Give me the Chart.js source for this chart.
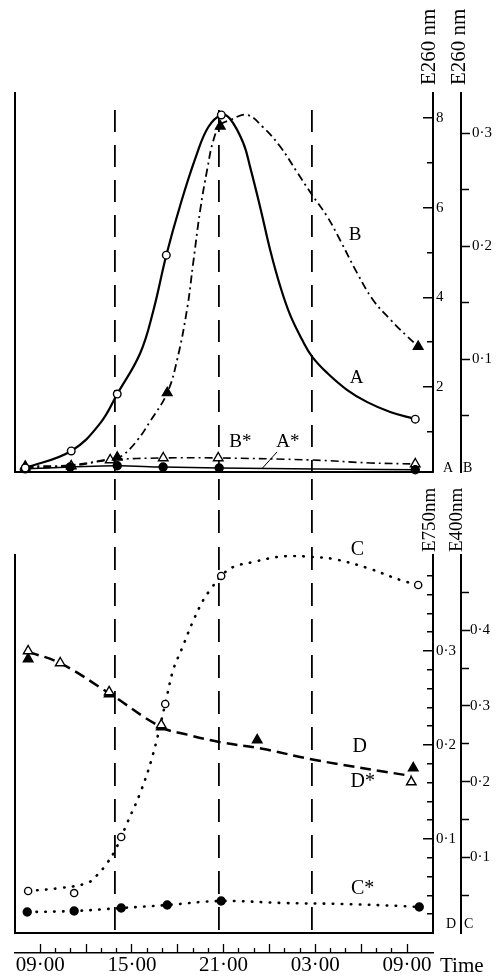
<!DOCTYPE html>
<html>
<head>
<meta charset="utf-8">
<script src="https://cdn.jsdelivr.net/npm/chart.js@4.4.1/dist/chart.umd.min.js"></script>
<style>
  body { margin: 0; background: #fff; }
  #wrap { position: relative; width: 499px; height: 980px; }
  canvas { position: absolute; left: 0; }
  #top { top: 0; }
  #bottom { top: 470px; }
</style>
</head>
<body>
<div id="wrap">
  <canvas id="top" width="499" height="505"></canvas>
  <canvas id="bottom" width="499" height="510"></canvas>
</div>
<script>
Chart.defaults.font.family = '"Liberation Serif", "Times New Roman", serif';
Chart.defaults.color = '#000';

/* time axis: clock hours counted from midnight of day 1 (33 = 09:00 next day) */
const timeTicks = [9, 15, 21, 27, 33];
const timeLabels = ['09·00', '15·00', '21·00', '03·00', '09·00'];
const darkLines = [13.9, 20.7, 26.8];
const xMin = 7.35, xMax = 34.7;

/* TOP PANEL - E260 nm */
// A : open circles, solid
const aHours = [8.02, 11.03, 14.04, 17.25, 20.85, 33.54];
const aVals = [0.19, 0.57, 1.84, 4.94, 8.07, 1.28];
const aLineHours = [8.02, 11.03, 12.93, 14.04, 15.54, 16.4, 17.25, 18.2, 19.2, 20.0, 20.85, 21.43, 22.28, 22.74, 23.4, 24.05, 24.7, 25.36, 26.14, 26.8, 27.78, 29.09, 30.4, 31.9, 33.54];
const aLineVals = [0.19, 0.57, 1.19, 1.84, 2.75, 3.7, 4.94, 6.1, 7.15, 7.8, 8.07, 7.98, 7.45, 6.9, 6.0, 5.05, 4.25, 3.6, 3.05, 2.67, 2.31, 1.93, 1.66, 1.44, 1.28];
// B : filled triangles, dash-dot
const bHours = [8.02, 14.04, 17.31, 20.78, 33.73];
const bVals = [0.005, 0.013, 0.070, 0.306, 0.111];
const bLineHours = [8.02, 10.96, 14.04, 14.43, 15.35, 16.2, 17.31, 17.97, 18.62, 19.01, 19.47, 19.93, 20.32, 20.78, 21.43, 22.54, 23.59, 24.7, 25.82, 26.8, 27.78, 28.63, 29.74, 30.79, 31.9, 33.01, 33.73];
const bLineVals = [0.005, 0.006, 0.013, 0.015, 0.028, 0.045, 0.070, 0.100, 0.145, 0.185, 0.232, 0.268, 0.293, 0.307, 0.3115, 0.316, 0.305, 0.288, 0.265, 0.245, 0.226, 0.205, 0.176, 0.152, 0.135, 0.120, 0.111];
// A* : filled circles, solid
const aStarHours = [8.02, 10.96, 14.04, 17.04, 20.71, 33.54];
const aStarVals = [0.17, 0.21, 0.24, 0.21, 0.19, 0.15];
// B* : open triangles, dash-dot
const bStarHours = [8.02, 11.03, 13.58, 17.05, 20.65, 33.54];
const bStarVals = [0.0035, 0.0053, 0.0106, 0.0124, 0.0124, 0.0071];
const bStarLineHours = [8.02, 11.03, 13.58, 17.05, 20.65, 26.8, 30.6, 33.54];
const bStarLineVals = [0.0035, 0.0053, 0.0106, 0.0124, 0.0124, 0.0106, 0.008, 0.0071];

/* BOTTOM PANEL - E750 nm (D) and E400 nm (C) */
// C : open circles, dotted
const cHours = [8.21, 11.22, 14.3, 17.18, 20.84, 33.73];
const cVals = [0.0555, 0.0528, 0.1268, 0.3025, 0.4716, 0.4597];
const cLineHours = [8.21, 10.31, 12.08, 12.73, 13.38, 13.91, 14.3, 14.69, 15.54, 16.33, 17.18, 17.7, 18.29, 18.95, 19.67, 20.12, 20.84, 21.63, 22.94, 24.51, 25.55, 26.8, 28.17, 30.4, 32.56, 33.73];
const cLineVals = [0.0555, 0.0594, 0.0661, 0.0766, 0.0925, 0.1096, 0.1268, 0.1453, 0.1849, 0.2325, 0.3025, 0.3474, 0.3765, 0.4095, 0.4399, 0.4531, 0.4716, 0.4835, 0.4901, 0.4967, 0.498, 0.4967, 0.4941, 0.4822, 0.4663, 0.4597];
// C* : filled circles, dotted
const cStarHours = [8.15, 11.22, 14.3, 17.31, 20.84, 33.8];
const cStarVals = [0.0277, 0.0291, 0.033, 0.037, 0.0423, 0.0343];
const cStarLineHours = [8.15, 11.22, 14.3, 17.31, 20.84, 24.9, 28.83, 32.56, 33.8];
const cStarLineVals = [0.0277, 0.0291, 0.033, 0.037, 0.0423, 0.0396, 0.0383, 0.0357, 0.0343];
// D : filled triangles, D* : open triangles, one dashed line
const dHours = [8.21, 13.51, 16.92, 23.2, 33.41];
const dVals = [0.2915, 0.2543, 0.2191, 0.2053, 0.1755];
const dStarHours = [8.21, 10.31, 13.51, 16.92, 33.28];
const dStarVals = [0.300, 0.2872, 0.2564, 0.2213, 0.1606];
const dLineHours = [8.21, 10.31, 13.51, 16.92, 18.62, 20.78, 23.53, 26.99, 33.28];
const dLineVals = [0.299, 0.287, 0.255, 0.219, 0.211, 0.203, 0.196, 0.184, 0.167];

const clear = 'rgba(0,0,0,0)';
function pts(h, v) { return h.map((x, i) => ({ x: x, y: v[i] })); }
function near(v, step) { return Math.abs(v / step - Math.round(v / step)) < 1e-6; }
function dec(v) { return '0·' + Math.round(v * 10); }

function curve(data, axis, dash, width) {
  return {
    type: 'line', data: data, yAxisID: axis, order: 2,
    borderColor: '#000', borderWidth: width, borderDash: dash,
    borderCapStyle: dash.length && dash[0] < 1 ? 'round' : 'butt',
    pointRadius: 0, fill: false, tension: 0.4
  };
}
function marks(data, axis, style, filled, r) {
  return {
    type: 'scatter', data: data, yAxisID: axis, order: 1, showLine: false,
    pointStyle: style, pointRadius: r, backgroundColor: filled ? '#000' : '#fff',
    borderColor: '#000', borderWidth: 1.4, clip: false
  };
}

// left frame line of a panel
function frameAxis() {
  return {
    type: 'linear', position: 'left', ticks: { display: false }, grid: { display: false },
    border: { color: '#000', width: 2 }, afterFit: s => { s.width = 0; }
  };
}

// first right axis: ticks point into the plot, numbers right of the line
function innerAxis(min, max, step, major, fmt) {
  const len = v => near(v, major) ? 10 : 6;
  return {
    type: 'linear', position: 'right', weight: 0, min: min, max: max,
    afterFit: s => { s.width = 28; },
    ticks: { stepSize: step, autoSkip: false, padding: 3, font: { size: 15 },
      callback: v => (v > min && near(v, major)) ? fmt(v) : '' },
    grid: { drawTicks: false, lineWidth: 1.5,
      color: c => (c.tick && c.tick.value > min && near(c.tick.value, step)) ? '#000' : clear },
    border: { color: '#000', width: 2,
      dash: c => {
        if (c.type !== 'tick') return [];
        const w = c.chart.chartArea.right - c.chart.chartArea.left;
        return [len(c.tick.value), w - len(c.tick.value)];
      },
      dashOffset: c => c.type === 'tick' ? len(c.tick.value) : 0 }
  };
}

// second right axis: ticks point outwards
function outerAxis(min, max, step, major, pad) {
  return {
    type: 'linear', position: 'right', weight: 1, min: min, max: max,
    afterFit: s => { s.width = 38; },
    ticks: { stepSize: step, autoSkip: false, padding: pad, font: { size: 15 },
      callback: v => (v > min && near(v, major)) ? dec(v) : '' },
    grid: { drawOnChartArea: false, tickLength: 9, tickWidth: 1.5,
      tickColor: c => (c.tick && c.tick.value > min && near(c.tick.value, step)) ? '#000' : clear,
      tickBorderDash: c => (c.tick && near(c.tick.value, major)) ? [] : [7, 20] },
    border: { color: '#000', width: 2 }
  };
}

// text that is not a tick label: curve names, axis titles, letters, "Time"
const notes = {
  id: 'notes',
  afterDraw(chart, args, opts) {
    const ctx = chart.ctx;
    const x = chart.scales.x;
    const font = s => s + 'px "Liberation Serif", serif';
    ctx.save();
    ctx.fillStyle = '#000';
    ctx.strokeStyle = '#000';
    (opts.labels || []).forEach(n => {
      ctx.font = font(n.size);
      ctx.textAlign = 'center';
      ctx.textBaseline = 'middle';
      ctx.fillText(n.text, x.getPixelForValue(n.x), chart.scales[n.axis].getPixelForValue(n.y));
    });
    (opts.leaders || []).forEach(l => {
      const y = chart.scales[l.axis];
      ctx.lineWidth = 1;
      ctx.beginPath();
      ctx.moveTo(x.getPixelForValue(l.from[0]), y.getPixelForValue(l.from[1]));
      ctx.lineTo(x.getPixelForValue(l.to[0]), y.getPixelForValue(l.to[1]));
      ctx.stroke();
    });
    (opts.letters || []).forEach(l => {
      const s = chart.scales[l.axis];
      ctx.font = font(l.size);
      ctx.textAlign = 'left';
      ctx.textBaseline = 'middle';
      ctx.fillText(l.text, s.left + l.dx, chart.chartArea.bottom + l.dy);
    });
    (opts.titles || []).forEach(t => {
      const s = chart.scales[t.axis];
      ctx.save();
      ctx.translate(s.left + t.dx, chart.chartArea.top - t.gap);
      ctx.rotate(-Math.PI / 2);
      ctx.font = font(t.size);
      ctx.textAlign = 'left';
      ctx.textBaseline = 'alphabetic';
      ctx.fillText(t.text, 0, 0);
      ctx.restore();
    });
    if (opts.time) {
      const s = chart.scales[opts.time.axis];
      ctx.font = font(opts.time.size);
      ctx.textAlign = 'left';
      ctx.textBaseline = 'middle';
      ctx.fillText(opts.time.text, s.right + opts.time.dx, s.top + opts.time.dy);
    }
    ctx.restore();
  }
};

const topDash = [0, 17];
for (let i = 0; i < 12; i++) topDash.push(22, 13);

/* TOP CHART */
new Chart(document.getElementById('top'), {
  type: 'scatter',
  data: {
    datasets: [
      marks(pts(aHours, aVals), 'yA', 'circle', false, 3.8),
      marks(pts(bHours, bVals), 'yB', 'triangle', true, 5.5),
      marks(pts(aStarHours, aStarVals), 'yA', 'circle', true, 4),
      marks(pts(bStarHours, bStarVals), 'yB', 'triangle', false, 5.5),
      curve(pts(aLineHours, aLineVals), 'yA', [], 2.2),
      curve(pts(bLineHours, bLineVals), 'yB', [8, 4, 2, 4], 1.8),
      curve(pts(aStarHours, aStarVals), 'yA', [], 1.5),
      curve(pts(bStarLineHours, bStarLineVals), 'yB', [8, 4, 2, 4], 1.6)
    ]
  },
  options: {
    responsive: false, animation: false, devicePixelRatio: 1, events: [],
    layout: { padding: { left: 15, top: 93, right: 0, bottom: 0 } },
    plugins: {
      legend: { display: false }, tooltip: { enabled: false },
      notes: {
        labels: [
          { text: 'B', x: 29.6, y: 0.21, axis: 'yB', size: 19 },
          { text: 'A', x: 29.7, y: 2.2, axis: 'yA', size: 19 },
          { text: 'B*', x: 22.1, y: 0.77, axis: 'yA', size: 19 },
          { text: 'A*', x: 25.2, y: 0.77, axis: 'yA', size: 19 }
        ],
        leaders: [{ axis: 'yA', from: [24.5, 0.55], to: [23.5, 0.17] }],
        letters: [
          { text: 'A', axis: 'yA', dx: 10, dy: -4, size: 14 },
          { text: 'B', axis: 'yB', dx: 2, dy: -4, size: 14 }
        ],
        titles: [
          { text: 'E260 nm', axis: 'yA', dx: 2, gap: 8, size: 21 },
          { text: 'E260 nm', axis: 'yB', dx: 4, gap: 8, size: 21 }
        ]
      }
    },
    scales: {
      x: {
        type: 'linear', position: 'bottom', min: xMin, max: xMax,
        afterBuildTicks: s => { s.ticks = darkLines.map(v => ({ value: v })); },
        afterFit: s => { s.height = 33; },
        ticks: { display: false },
        grid: { color: '#000', lineWidth: 1.8, tickLength: 28, tickWidth: 1.8,
          tickBorderDash: [22, 6], tickBorderDashOffset: 22 },
        border: { color: '#000', width: 2, dash: c => c.type === 'tick' ? topDash : [] }
      },
      yl: frameAxis(),
      yA: innerAxis(0.1, 8.56, 1, 2, v => String(v)),
      yB: outerAxis(0, 0.3354, 0.05, 0.1, 2)
    }
  },
  plugins: [notes]
});

/* BOTTOM CHART */
new Chart(document.getElementById('bottom'), {
  type: 'scatter',
  data: {
    datasets: [
      marks(pts(cHours, cVals), 'yC', 'circle', false, 3.6),
      marks(pts(cStarHours, cStarVals), 'yC', 'circle', true, 4),
      marks(pts(dStarHours, dStarVals), 'yD', 'triangle', false, 5.5),
      marks(pts(dHours, dVals), 'yD', 'triangle', true, 5.5),
      curve(pts(cLineHours, cLineVals), 'yC', [0.5, 8.5], 2.6),
      curve(pts(cStarLineHours, cStarLineVals), 'yC', [0.5, 8.5], 2.6),
      curve(pts(dLineHours, dLineVals), 'yD', [11, 6], 2.5)
    ]
  },
  options: {
    responsive: false, animation: false, devicePixelRatio: 1, events: [],
    layout: { padding: { left: 15, top: 40, right: 0, bottom: 0 } },
    plugins: {
      legend: { display: false }, tooltip: { enabled: false },
      notes: {
        labels: [
          { text: 'C', x: 29.75, y: 0.506, axis: 'yC', size: 20 },
          { text: 'D', x: 29.9, y: 0.198, axis: 'yD', size: 20 },
          { text: 'D*', x: 30.1, y: 0.161, axis: 'yD', size: 20 },
          { text: 'C*', x: 30.1, y: 0.058, axis: 'yC', size: 20 }
        ],
        letters: [
          { text: 'D', axis: 'yD', dx: 13, dy: -9, size: 14 },
          { text: 'C', axis: 'yC', dx: 3, dy: -9, size: 14 }
        ],
        titles: [
          { text: 'E750nm', axis: 'yD', dx: 2, gap: 3, size: 19 },
          { text: 'E400nm', axis: 'yC', dx: 1, gap: 3, size: 19 }
        ],
        time: { text: 'Time', axis: 'xl', dx: 7, dy: 13, size: 21 }
      }
    },
    scales: {
      xd: {
        type: 'linear', axis: 'x', position: 'top', min: xMin, max: xMax,
        afterBuildTicks: s => { s.ticks = darkLines.map(v => ({ value: v })); },
        afterFit: s => { s.height = 45; },
        ticks: { display: false },
        grid: { color: '#000', lineWidth: 1.8, tickLength: 45, tickWidth: 1.8, tickBorderDash: [23, 14, 8, 60] },
        border: { display: false, dash: c => c.type === 'tick' ? [23, 13] : [], dashOffset: 8 }
      },
      x: {
        type: 'linear', position: 'bottom', weight: 0, min: xMin, max: xMax,
        afterFit: s => { s.height = 20; },
        ticks: { display: false, stepSize: 1, autoSkip: false },
        grid: { drawOnChartArea: false, tickLength: 20, tickWidth: 1.3,
          tickColor: c => (c.tick && near(c.tick.value, 1)) ? '#000' : clear,
          tickBorderDash: c => (c.tick && near(c.tick.value, 3)) ? [10, 10] : [6, 14],
          tickBorderDashOffset: c => (c.tick && near(c.tick.value, 3)) ? 10 : 6 },
        border: { color: '#000', width: 2 }
      },
      xl: {
        type: 'linear', axis: 'x', position: 'bottom', weight: 1, min: xMin, max: xMax,
        afterBuildTicks: s => { s.ticks = timeTicks.map(v => ({ value: v })); },
        afterFit: s => { s.height = 27; },
        ticks: { padding: 0, font: { size: 21 }, maxRotation: 0, autoSkip: false,
          callback: (v, i) => timeLabels[i] },
        grid: { drawOnChartArea: false, drawTicks: false },
        border: { color: '#000', width: 1.5 }
      },
      yl: frameAxis(),
      yD: innerAxis(0, 0.4021, 0.02, 0.1, dec),
      yC: outerAxis(0, 0.4993, 0.05, 0.1, 0)
    }
  },
  plugins: [notes]
});
</script>
</body>
</html>
